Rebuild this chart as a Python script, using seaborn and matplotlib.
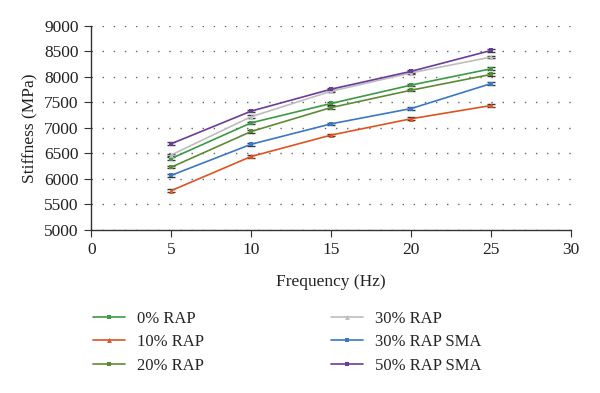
import matplotlib
matplotlib.use("Agg")
import matplotlib.pyplot as plt
import seaborn as sns
import pandas as pd
import numpy as np

frequency = [5, 10, 15, 20, 25]
series_names = ["0% RAP", "10% RAP", "20% RAP", "30% RAP", "30% RAP SMA", "50% RAP SMA"]
rap0 = [6400, 7100, 7480, 7840, 8160]
rap10 = [5770, 6440, 6860, 7180, 7440]
rap20 = [6230, 6930, 7400, 7740, 8050]
rap30 = [6470, 7220, 7720, 8080, 8390]
rap30sma = [6070, 6680, 7080, 7380, 7870]
rap50sma = [6690, 7330, 7760, 8110, 8520]
err = [25, 25, 25, 25, 25]

values = [rap0, rap10, rap20, rap30, rap30sma, rap50sma]
colors = ["#3c9a44", "#dd5421", "#5d8a35", "#bdbdbd", "#3b78c4", "#6a3c98"]
markers = ["s", "^", "s", "^", "s", "s"]

rows = []
for name, vals in zip(series_names, values):
    for f, v in zip(frequency, vals):
        rows.append({"Frequency": f, "Stiffness": v, "Series": name})
df = pd.DataFrame(rows)

sns.set_style("white")
plt.rcParams["font.family"] = ["Liberation Serif", "DejaVu Serif"]

fig = plt.figure(figsize=(6, 3.93), dpi=100)
ax = fig.add_axes([0.152, 0.415, 0.8, 0.519])

palette = dict(zip(series_names, colors))
marker_map = dict(zip(series_names, markers))
sns.lineplot(data=df, x="Frequency", y="Stiffness", hue="Series", style="Series",
             palette=palette, markers=marker_map, dashes=False, markersize=3.5,
             markeredgewidth=0, linewidth=1.2, ax=ax, legend=True)

for name, vals, c in zip(series_names, values, colors):
    ax.errorbar(frequency, vals, yerr=err, fmt="none", ecolor="#3a3a3a",
                elinewidth=0.9, capsize=3, capthick=1.0, zorder=1)

ax.set_xlim(0, 30)
ax.set_ylim(5000, 9000)
ax.set_xticks(range(0, 31, 5))
ax.set_yticks(range(5000, 9001, 500))
ax.yaxis.grid(True, linestyle=(0, (1, 7)), color="#666666", linewidth=1.0)
ax.xaxis.grid(False)
for s in ["top", "right"]:
    ax.spines[s].set_visible(False)
for s in ["left", "bottom"]:
    ax.spines[s].set_color("#333333")
    ax.spines[s].set_linewidth(1.0)
ax.tick_params(axis="both", which="both", direction="out", length=5, width=0.8,
               color="#333333", labelsize=12.5, labelcolor="#222222",
               left=True, bottom=True, pad=4)
ax.set_xlabel("Frequency (Hz)", fontsize=12.5, color="#222222", labelpad=11)
ax.set_ylabel("Stiffness (MPa)", fontsize=12.5, color="#222222", labelpad=4)

handles, labels = ax.get_legend_handles_labels()
ax.get_legend().remove()
fig.legend(handles, labels, loc="upper left", bbox_to_anchor=(0.13, 0.248),
           ncol=2, frameon=False, fontsize=12, handlelength=1.9,
           columnspacing=7.6, labelspacing=0.45, handletextpad=0.75)

fig.savefig("out.png", dpi=100)
